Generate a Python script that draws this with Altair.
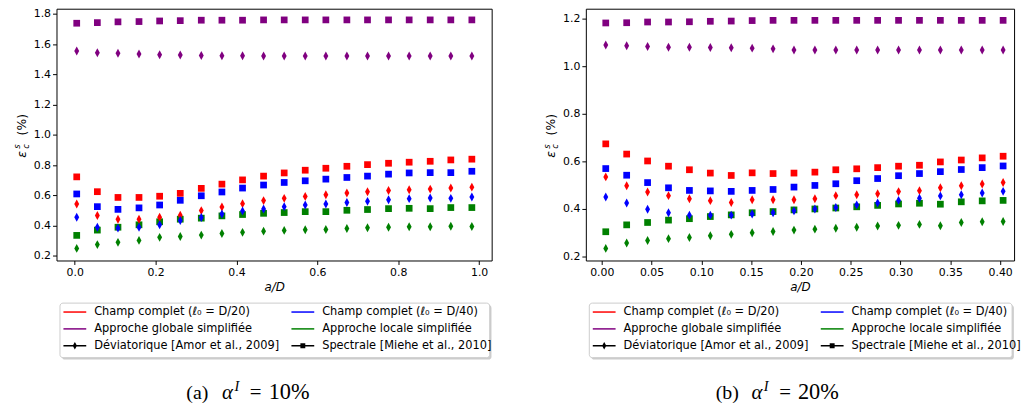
import altair as alt
import pandas as pd

FONT = "DejaVu Sans"
SERIF = "Liberation Serif"

# ---------------- panel (a) : alpha_I = 10 %
a_x = [0.005, 0.056, 0.107, 0.159, 0.210, 0.261, 0.313, 0.364, 0.415, 0.467,
       0.518, 0.570, 0.621, 0.673, 0.724, 0.776, 0.827, 0.879, 0.930, 0.982]
a_purple_sq = [1.739, 1.743, 1.748, 1.750, 1.754, 1.756, 1.759, 1.759, 1.759, 1.761,
               1.761, 1.761, 1.761, 1.761, 1.761, 1.761, 1.761, 1.761, 1.761, 1.761]
a_purple_di = [1.555, 1.544, 1.540, 1.535, 1.531, 1.529, 1.526, 1.524, 1.524, 1.522,
               1.522, 1.522, 1.522, 1.522, 1.522, 1.522, 1.522, 1.522, 1.522, 1.522]
a_green_sq = [0.336, 0.371, 0.390, 0.406, 0.426, 0.443, 0.450, 0.465, 0.474, 0.482,
              0.487, 0.493, 0.493, 0.502, 0.507, 0.513, 0.515, 0.513, 0.520, 0.520]
a_green_di = [0.250, 0.275, 0.290, 0.303, 0.323, 0.329, 0.338, 0.349, 0.356, 0.364,
              0.369, 0.373, 0.375, 0.382, 0.386, 0.390, 0.393, 0.393, 0.397, 0.395]
a_red_sq = [0.723, 0.625, 0.587, 0.587, 0.595, 0.614, 0.647, 0.675, 0.703, 0.728,
            0.749, 0.767, 0.780, 0.793, 0.804, 0.813, 0.820, 0.826, 0.835, 0.840]
a_red_di = [0.544, 0.467, 0.443, 0.443, 0.456, 0.469, 0.500, 0.524, 0.546, 0.566,
            0.581, 0.594, 0.605, 0.616, 0.625, 0.633, 0.638, 0.642, 0.649, 0.655]
a_blue_sq = [0.610, 0.526, 0.508, 0.518, 0.537, 0.568, 0.598, 0.623, 0.649, 0.669,
             0.686, 0.697, 0.708, 0.719, 0.728, 0.741, 0.749, 0.751, 0.751, 0.760]
a_blue_di = [0.456, 0.390, 0.384, 0.390, 0.406, 0.434, 0.454, 0.478, 0.498, 0.511,
             0.526, 0.537, 0.544, 0.554, 0.561, 0.572, 0.579, 0.583, 0.581, 0.590]

# ---------------- panel (b) : alpha_I = 20 %
b_x = [0.004, 0.025, 0.046, 0.067, 0.088, 0.109, 0.130, 0.151, 0.172, 0.193,
       0.214, 0.235, 0.256, 0.277, 0.298, 0.319, 0.340, 0.361, 0.382, 0.403]
b_purple_sq = [1.182, 1.183, 1.186, 1.186, 1.187, 1.189, 1.190, 1.192, 1.193, 1.193,
               1.193, 1.193, 1.193, 1.193, 1.193, 1.193, 1.193, 1.193, 1.193, 1.193]
b_purple_di = [1.089, 1.086, 1.083, 1.080, 1.080, 1.079, 1.078, 1.076, 1.073, 1.068,
               1.068, 1.068, 1.068, 1.068, 1.068, 1.068, 1.068, 1.068, 1.068, 1.068]
b_green_sq = [0.303, 0.332, 0.342, 0.352, 0.358, 0.367, 0.374, 0.383, 0.388, 0.395,
              0.399, 0.403, 0.408, 0.414, 0.420, 0.423, 0.419, 0.429, 0.433, 0.435]
b_green_di = [0.233, 0.256, 0.266, 0.274, 0.279, 0.286, 0.292, 0.299, 0.304, 0.310,
              0.314, 0.318, 0.322, 0.327, 0.330, 0.334, 0.328, 0.342, 0.345, 0.346]
b_red_sq = [0.673, 0.630, 0.601, 0.579, 0.564, 0.550, 0.540, 0.551, 0.548, 0.550,
            0.554, 0.564, 0.568, 0.573, 0.579, 0.583, 0.597, 0.605, 0.614, 0.621]
b_red_di = [0.534, 0.497, 0.470, 0.455, 0.442, 0.434, 0.426, 0.438, 0.438, 0.438,
            0.442, 0.455, 0.459, 0.463, 0.472, 0.476, 0.488, 0.497, 0.504, 0.510]
b_blue_sq = [0.569, 0.541, 0.510, 0.488, 0.477, 0.475, 0.473, 0.477, 0.481, 0.491,
             0.498, 0.505, 0.518, 0.527, 0.539, 0.548, 0.556, 0.565, 0.573, 0.580]
b_blue_di = [0.449, 0.424, 0.398, 0.383, 0.373, 0.373, 0.373, 0.378, 0.383, 0.391,
             0.399, 0.405, 0.416, 0.424, 0.435, 0.444, 0.454, 0.459, 0.466, 0.473]

# ---------------- series / legend
series_names = ["Approche globale simplifiée", "Approche locale simplifiée",
                "Champ complet (ℓ₀ = D/20)", "Champ complet (ℓ₀ = D/40)"]
series_colors = ["#800080", "#008000", "#ff0000", "#0000ff"]

legend_labels = ["Champ complet (ℓ₀ = D/20)", "Champ complet (ℓ₀ = D/40)",
                 "Approche globale simplifiée", "Approche locale simplifiée",
                 "Déviatorique [Amor et al., 2009]", "Spectrale [Miehe et al., 2010]"]
legend_cols = [0, 1, 0, 1, 0, 1]
legend_rows = [0, 0, 1, 1, 2, 2]
legend_colors = ["#ff0000", "#0000ff", "#800080", "#008000", "#000000", "#000000"]
LINE = "M-1,0L1,0"
DI_LINE = "M-1,0L1,0M0,-0.2L0.11,0L0,0.2L-0.11,0Z"
SQ_LINE = "M-1,0L1,0M-0.15,-0.15L0.15,-0.15L0.15,0.15L-0.15,0.15Z"
legend_shapes = [LINE, LINE, LINE, LINE, DI_LINE, SQ_LINE]

THIN_DIAMOND = "M0,-1L0.55,0L0,1L-0.55,0Z"


def long_df(x, groups):
    rows = []
    for series, vals in groups:
        for xi, v in zip(x, vals):
            rows.append({"x": xi, "y": v, "series": series})
    return pd.DataFrame(rows)


def one_row():
    return pd.DataFrame({"k": [0]})


def panel(x, sq_groups, di_groups, xdom, ydom, xticks, yticks, xfmt, w, h):
    xenc = alt.X("x:Q", scale=alt.Scale(domain=xdom, nice=False, zero=False),
                 axis=alt.Axis(values=xticks, format=xfmt, title="a/D",
                               titleFontStyle="italic"))
    yenc = alt.Y("y:Q", scale=alt.Scale(domain=ydom, nice=False, zero=False),
                 axis=alt.Axis(values=yticks, format=".1f", title=None))
    cenc = alt.Color("series:N", scale=alt.Scale(domain=series_names, range=series_colors),
                     legend=None)
    sq = alt.Chart(long_df(x, sq_groups)).mark_point(
        shape="square", filled=True, size=46, opacity=1).encode(x=xenc, y=yenc, color=cenc)
    di = alt.Chart(long_df(x, di_groups)).mark_point(
        shape=THIN_DIAMOND, filled=True, size=81, opacity=1).encode(x=xenc, y=yenc, color=cenc)

    def t(text, xv, yv, size, style="normal"):
        return alt.Chart(one_row()).mark_text(
            text=text, font=FONT, fontSize=size, fontStyle=style, angle=270,
            align="center", baseline="middle", color="#000").encode(
            x=alt.value(xv), y=alt.value(yv))

    title = [
        t("ε", -35, 147, 12.5, "italic"),
        t("s", -39.5, 139, 8.5, "italic"),
        t("c", -31, 139, 8.5, "italic"),
        t("(%)", -35, 117, 12.5),
    ]
    return alt.layer(sq, di, *title).properties(
        width=w, height=h, view=alt.ViewBackground(stroke="#000", strokeWidth=1))


def legend(w, tag, value):
    ldf = pd.DataFrame({"label": legend_labels, "col": legend_cols, "row": legend_rows})
    xenc = alt.X("col:Q", scale=alt.Scale(domain=[0, 1], range=[18.5, 248.5]), axis=None)
    yenc = alt.Y("row:Q", scale=alt.Scale(domain=[0, 2], range=[9, 43]), axis=None)
    shadow = alt.Chart(one_row()).mark_rect(fill="#999999", opacity=0.5, cornerRadius=3).encode(
        x=alt.value(5.5), x2=alt.value(w - 0.2), y=alt.value(2), y2=alt.value(57))
    box = alt.Chart(one_row()).mark_rect(fill="#ffffff", stroke="#cccccc", strokeWidth=1,
                                         cornerRadius=3).encode(
        x=alt.value(3.5), x2=alt.value(w - 2), y=alt.value(0), y2=alt.value(55))
    sym = alt.Chart(ldf).mark_point(filled=True, size=529, strokeWidth=1.5, opacity=1).encode(
        x=xenc, y=yenc,
        fill=alt.Fill("label:N", scale=alt.Scale(domain=legend_labels, range=legend_colors), legend=None),
        stroke=alt.Stroke("label:N", scale=alt.Scale(domain=legend_labels, range=legend_colors), legend=None),
        shape=alt.Shape("label:N", scale=alt.Scale(domain=legend_labels, range=legend_shapes), legend=None),
    )
    txt = alt.Chart(ldf).mark_text(align="left", baseline="middle", dx=19.5, font=FONT,
                                   fontSize=11.5, color="#000").encode(
        x=xenc, y=yenc, text="label:N")

    def c(text, xv, yv, size, style="normal"):
        return alt.Chart(one_row()).mark_text(
            text=text, font=SERIF, fontSize=size, fontStyle=style, align="left",
            baseline="alphabetic", color="#000").encode(x=alt.value(xv), y=alt.value(yv))

    cap = [
        c(tag, 131, 97, 20),
        c("α", 167, 97, 21, "italic"),
        c("I", 179.5, 88.5, 14.5, "italic"),
        c("=", 195, 97, 21),
        c(value, 214, 97, 22.5),
    ]
    return alt.layer(shadow, box, sym, txt, *cap).properties(
        width=w, height=55, view=alt.ViewBackground(strokeWidth=0))


left_panel = panel(
    a_x,
    [(series_names[0], a_purple_sq), (series_names[1], a_green_sq),
     (series_names[2], a_red_sq), (series_names[3], a_blue_sq)],
    [(series_names[0], a_purple_di), (series_names[1], a_green_di),
     (series_names[2], a_red_di), (series_names[3], a_blue_di)],
    [-0.045, 1.031], [0.17, 1.835], [0, 0.2, 0.4, 0.6, 0.8, 1.0],
    [0.2, 0.4, 0.6, 0.8, 1.0, 1.2, 1.4, 1.6, 1.8], ".1f", 439, 254)

right_panel = panel(
    b_x,
    [(series_names[0], b_purple_sq), (series_names[1], b_green_sq),
     (series_names[2], b_red_sq), (series_names[3], b_blue_sq)],
    [(series_names[0], b_purple_di), (series_names[1], b_green_di),
     (series_names[2], b_red_di), (series_names[3], b_blue_di)],
    [-0.016, 0.414], [0.182, 1.242], [0, 0.05, 0.1, 0.15, 0.2, 0.25, 0.3, 0.35, 0.4],
    [0.2, 0.4, 0.6, 0.8, 1.0, 1.2], ".2f", 432, 254)

left_col = alt.vconcat(left_panel, legend(439, "(a)", "10%"), spacing=9)
right_col = alt.vconcat(right_panel, legend(432, "(b)", "20%"), spacing=9)

chart = alt.hconcat(left_col, right_col, spacing=50).properties(
    padding={"left": 13, "top": 5, "right": 0, "bottom": 0},
    background="white",
).configure_axis(
    labelFont=FONT, labelFontSize=11, labelColor="#000", tickColor="#000",
    tickSize=4, labelPadding=2, domain=False, grid=False,
    titleFont=FONT, titleFontSize=12, titleFontWeight="normal", titleColor="#000",
    titlePadding=4,
)

chart.save("out.html", embed_options={"renderer": "svg", "actions": False})
